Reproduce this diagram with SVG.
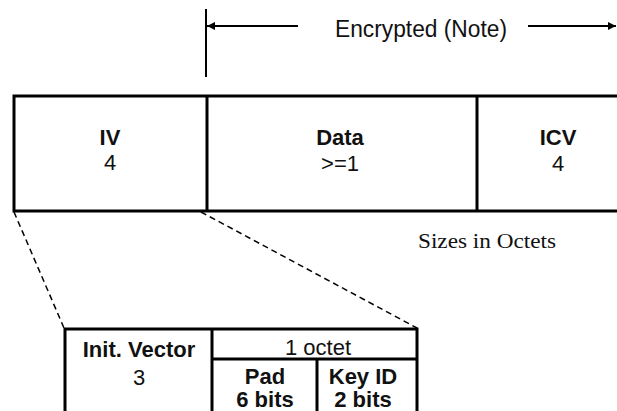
<svg xmlns="http://www.w3.org/2000/svg" width="617" height="411" viewBox="0 0 617 411">
<defs>
<marker id="ah" viewBox="0 0 10 10" refX="10" refY="5" markerWidth="4" markerHeight="4" orient="auto-start-reverse" markerUnits="strokeWidth">
<path d="M0,0 L10,5 L0,10 z" fill="#000"/>
</marker>
</defs>
<style>
.box{fill:#fff;stroke:#000;stroke-width:3}
.ln{stroke:#000;stroke-width:3;fill:none}
.thin{stroke:#000;stroke-width:2;fill:none}
.dash{stroke:#000;stroke-width:1.5;stroke-dasharray:6,4;fill:none}
.sb{font-family:"Liberation Sans",Arial,sans-serif;font-weight:bold;font-size:22px;text-anchor:middle;fill:#111}
.sr{font-family:"Liberation Sans",Arial,sans-serif;font-size:22px;text-anchor:middle;fill:#111}
.ser{font-family:"Liberation Serif","Times New Roman",serif;font-size:22px;fill:#111}
</style>
<rect width="617" height="411" fill="#fff"/>
<g id="connectors">
<line class="thin" x1="206" y1="9" x2="206" y2="77"/>
<line class="thin" x1="298" y1="26" x2="207" y2="26" marker-end="url(#ah)"/>
<line class="thin" x1="528" y1="26" x2="616" y2="26" marker-end="url(#ah)"/>
<line class="dash" x1="14" y1="212" x2="64" y2="328"/>
<line class="dash" x1="201" y1="212" x2="417" y2="328"/>
</g>
<g id="encrypted-label">
<text class="sr" x="421" y="37" style="font-size:23px" textLength="172" lengthAdjust="spacingAndGlyphs">Encrypted (Note)</text>
</g>
<g id="frame">
<rect class="box" x="14" y="96" width="640" height="115"/>
</g>
<g id="iv">
<text class="sb" x="110" y="145">IV</text>
<text class="sr" x="110" y="170">4</text>
</g>
<g id="data">
<line class="ln" x1="207" y1="96" x2="207" y2="211"/>
<text class="sb" x="340" y="145">Data</text>
<text class="sr" x="340" y="171">&gt;=1</text>
</g>
<g id="icv">
<line class="ln" x1="477" y1="96" x2="477" y2="211"/>
<text class="sb" x="558" y="145">ICV</text>
<text class="sr" x="558" y="171">4</text>
</g>
<g id="sizes-note">
<text class="ser" x="418" y="248" textLength="138" lengthAdjust="spacingAndGlyphs">Sizes in Octets</text>
</g>
<g id="iv-detail">
<rect class="box" x="65" y="329" width="352" height="100"/>
<line class="ln" x1="212" y1="329" x2="212" y2="420"/>
<line class="ln" x1="212" y1="359" x2="417" y2="359"/>
<line class="ln" x1="317" y1="359" x2="317" y2="420"/>
</g>
<g id="init-vector">
<text class="sb" x="139" y="357">Init. Vector</text>
<text class="sr" x="139" y="385">3</text>
</g>
<g id="octet">
<text class="sr" x="318" y="355">1 octet</text>
</g>
<g id="pad">
<text class="sb" x="265" y="384">Pad</text>
<text class="sb" x="265" y="407">6 bits</text>
</g>
<g id="keyid">
<text class="sb" x="363" y="384">Key ID</text>
<text class="sb" x="363" y="407">2 bits</text>
</g>
</svg>
